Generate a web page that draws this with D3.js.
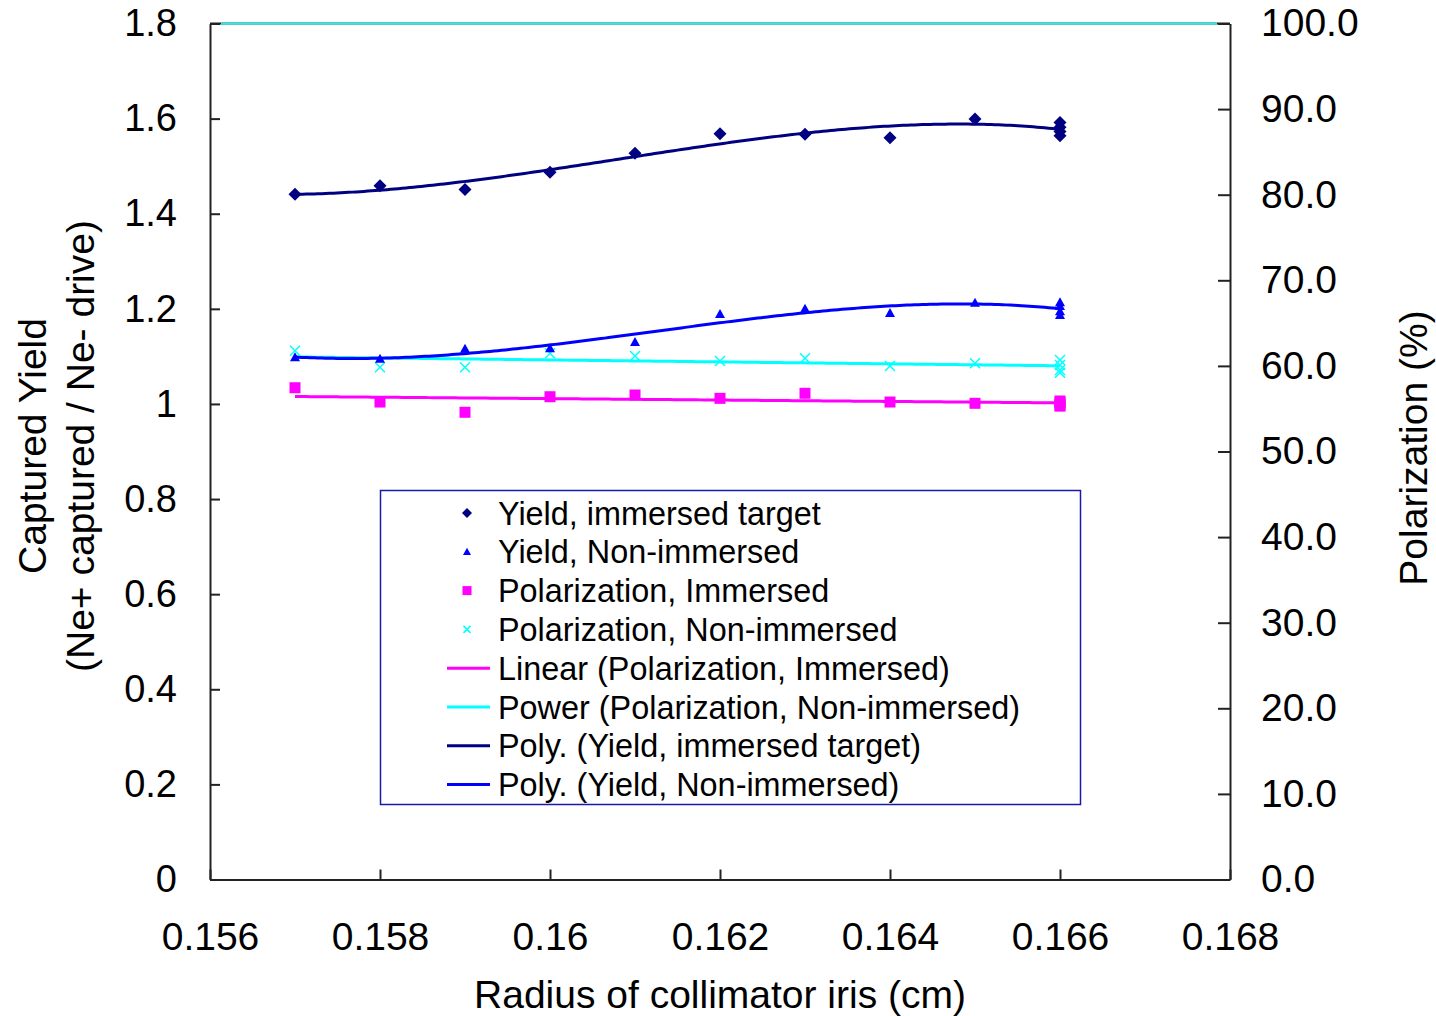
<!DOCTYPE html>
<html>
<head>
<meta charset="utf-8">
<script src="https://cdn.jsdelivr.net/npm/d3@7"></script>
<style>
  html, body { margin: 0; padding: 0; background: #fff; }
  svg { display: block; font-family: "Liberation Sans", Arial, sans-serif; }
</style>
</head>
<body>
<svg id="chart" width="1436" height="1016"></svg>
<script>
// Collimator iris radius (cm) for every run; 0.166 cm was run four times
const radius = [0.157, 0.158, 0.159, 0.160, 0.161, 0.162, 0.163, 0.164, 0.165, 0.166, 0.166, 0.166, 0.166];

// Captured yield (Ne+ captured / Ne- drive), left axis
const yieldImmersed    = [1.441, 1.459, 1.451, 1.487, 1.527, 1.568, 1.567, 1.560, 1.599, 1.592, 1.582, 1.573, 1.564];
const yieldNonImmersed = [1.098, 1.095, 1.116, 1.117, 1.130, 1.189, 1.200, 1.191, 1.213, 1.214, 1.206, 1.195, 1.187];

// Polarization (%), right axis
const polImmersed    = [57.45, 55.78, 54.58, 56.40, 56.60, 56.21, 56.80, 55.78, 55.63, 55.90, 55.70, 55.45, 55.30];
const polNonImmersed = [61.78, 59.84, 59.84, 61.47, 61.16, 60.57, 60.89, 59.99, 60.30, 60.69, 60.11, 59.52, 59.21];

// Axis ticks
const xTicks = [0.156, 0.158, 0.160, 0.162, 0.164, 0.166, 0.168];
const yLeftTicks = [0, 0.2, 0.4, 0.6, 0.8, 1.0, 1.2, 1.4, 1.6, 1.8];
const yRightTicks = [0, 10, 20, 30, 40, 50, 60, 70, 80, 90, 100];

// Legend entries
const legendItems = [
  { label: "Yield, immersed target", kind: "diamond", color: "#000080" },
  { label: "Yield, Non-immersed", kind: "triangle", color: "#0000FF" },
  { label: "Polarization, Immersed", kind: "square", color: "#FF00FF" },
  { label: "Polarization, Non-immersed", kind: "cross", color: "#00FFFF" },
  { label: "Linear (Polarization, Immersed)", kind: "line", color: "#FF00FF" },
  { label: "Power (Polarization, Non-immersed)", kind: "line", color: "#00FFFF" },
  { label: "Poly. (Yield, immersed target)", kind: "line", color: "#000080" },
  { label: "Poly. (Yield, Non-immersed)", kind: "line", color: "#0000FF" }
];

const svg = d3.select("#chart");
const plot = { left: 210, right: 1230, top: 23.5, bottom: 879.5 };

const x = d3.scaleLinear().domain([0.156, 0.168]).range([plot.left, plot.right]);
const yL = d3.scaleLinear().domain([0, 1.8]).range([plot.bottom, plot.top]);
const yR = d3.scaleLinear().domain([0, 100]).range([plot.bottom, plot.top]);

// ---- least-squares trendlines ----
function polyFit(xs, ys, order) {
  const x0 = 0.1615, s = 0.001, n = order + 1;
  const A = Array.from({ length: n }, () => new Array(n + 1).fill(0));
  xs.forEach((xv, i) => {
    const t = (xv - x0) / s;
    const p = d3.range(n).map(k => Math.pow(t, k));
    for (let r = 0; r < n; r++) {
      for (let c = 0; c < n; c++) A[r][c] += p[r] * p[c];
      A[r][n] += p[r] * ys[i];
    }
  });
  for (let i = 0; i < n; i++) {
    let piv = i;
    for (let r = i + 1; r < n; r++) if (Math.abs(A[r][i]) > Math.abs(A[piv][i])) piv = r;
    [A[i], A[piv]] = [A[piv], A[i]];
    for (let r = 0; r < n; r++) {
      if (r === i) continue;
      const f = A[r][i] / A[i][i];
      for (let c = i; c <= n; c++) A[r][c] -= f * A[i][c];
    }
  }
  const coef = d3.range(n).map(i => A[i][n] / A[i][i]);
  return xv => { const t = (xv - x0) / s; return coef.reduce((acc, c, k) => acc + c * Math.pow(t, k), 0); };
}
function powerFit(xs, ys) {
  const lx = xs.map(Math.log), ly = ys.map(Math.log);
  const mx = d3.mean(lx), my = d3.mean(ly);
  const b = d3.sum(lx.map((v, i) => (v - mx) * (ly[i] - my))) / d3.sum(lx.map(v => (v - mx) * (v - mx)));
  const a = Math.exp(my - b * mx);
  return xv => a * Math.pow(xv, b);
}

const xMin = d3.min(radius), xMax = d3.max(radius);
const sampleX = d3.range(0, 201).map(i => xMin + (xMax - xMin) * i / 200);

const trends = [
  { f: polyFit(radius, polImmersed, 1), y: yR, color: "#FF00FF" },
  { f: powerFit(radius, polNonImmersed), y: yR, color: "#00FFFF" },
  { f: polyFit(radius, yieldImmersed, 3), y: yL, color: "#000080" },
  { f: polyFit(radius, yieldNonImmersed, 3), y: yL, color: "#0000FF" }
];

// ---- frame ----
svg.append("line")
  .attr("x1", plot.left).attr("x2", plot.right)
  .attr("y1", plot.top).attr("y2", plot.top)
  .attr("stroke", "#222").attr("stroke-width", 2);
svg.append("line")
  .attr("x1", 221).attr("x2", 1217)
  .attr("y1", plot.top).attr("y2", plot.top)
  .attr("stroke", "#3fe0e0").attr("stroke-width", 2.5);

// ---- axes ----
function styleAxis(g, fontSize) {
  g.select(".domain").attr("stroke", "#222").attr("stroke-width", 2);
  g.selectAll(".tick line").attr("stroke", "#222").attr("stroke-width", 2);
  g.selectAll(".tick text").attr("fill", "#000").attr("font-size", fontSize)
    .attr("font-family", "'Liberation Sans', Arial, sans-serif");
}

const gx = svg.append("g").attr("transform", `translate(0,${plot.bottom})`)
  .call(d3.axisBottom(x).tickValues(xTicks).tickSize(-10).tickSizeOuter(0).tickPadding(43)
    .tickFormat(d => String(+d.toFixed(3))));
styleAxis(gx, 39);

const gl = svg.append("g").attr("transform", `translate(${plot.left},0)`)
  .call(d3.axisLeft(yL).tickValues(yLeftTicks).tickSize(-10).tickSizeOuter(0).tickPadding(33)
    .tickFormat(d => String(+d.toFixed(1))));
styleAxis(gl, 38);

const gr = svg.append("g").attr("transform", `translate(${plot.right},0)`)
  .call(d3.axisRight(yR).tickValues(yRightTicks).tickSize(-12).tickSizeOuter(0).tickPadding(31)
    .tickFormat(d3.format(".1f")));
styleAxis(gr, 39);

// ---- trendlines ----
trends.forEach(t => {
  svg.append("path")
    .datum(sampleX)
    .attr("fill", "none")
    .attr("stroke", t.color)
    .attr("stroke-width", 3)
    .attr("d", d3.line().x(d => x(d)).y(d => t.y(t.f(d))));
});

// ---- markers ----
const diamond = s => `M0,${-s}L${s},0L0,${s}L${-s},0Z`;
const triangle = s => `M0,${-s}L${s},${s * 0.8}L${-s},${s * 0.8}Z`;
const square = s => `M${-s},${-s}H${s}V${s}H${-s}Z`;
const cross = s => `M${-s},${-s}L${s},${s}M${-s},${s}L${s},${-s}`;

function drawMarker(g, kind, color, s) {
  if (kind === "diamond") g.append("path").attr("d", diamond(s)).attr("fill", color);
  else if (kind === "triangle") g.append("path").attr("d", triangle(s)).attr("fill", color);
  else if (kind === "square") g.append("path").attr("d", square(s)).attr("fill", color);
  else if (kind === "cross") g.append("path").attr("d", cross(s)).attr("stroke", color).attr("stroke-width", 1.5).attr("fill", "none");
}

const markerSeries = [
  { values: polImmersed, y: yR, kind: "square", color: "#FF00FF", size: 5.5 },
  { values: polNonImmersed, y: yR, kind: "cross", color: "#00FFFF", size: 5 },
  { values: yieldNonImmersed, y: yL, kind: "triangle", color: "#0000FF", size: 5 },
  { values: yieldImmersed, y: yL, kind: "diamond", color: "#000080", size: 6.5 }
];
markerSeries.forEach(ser => {
  ser.values.forEach((v, i) => {
    const g = svg.append("g").attr("transform", `translate(${x(radius[i])},${ser.y(v)})`);
    drawMarker(g, ser.kind, ser.color, ser.size);
  });
});

// ---- legend ----
const legend = svg.append("g");
legend.append("rect")
  .attr("x", 380.5).attr("y", 490.5).attr("width", 700).attr("height", 314)
  .attr("fill", "#fff").attr("stroke", "#1a1aa8").attr("stroke-width", 1.5);
legendItems.forEach((item, i) => {
  const cy = 513 + i * 38.8;
  if (item.kind === "line") {
    legend.append("line").attr("x1", 447).attr("x2", 490).attr("y1", cy).attr("y2", cy)
      .attr("stroke", item.color).attr("stroke-width", 3);
  } else {
    const g = legend.append("g").attr("transform", `translate(467,${cy})`);
    const s = { diamond: 5, triangle: 4, square: 4.5, cross: 3.5 }[item.kind];
    drawMarker(g, item.kind, item.color, s);
  }
  legend.append("text").attr("x", 498).attr("y", cy + 11.5)
    .attr("font-size", 32.4).attr("fill", "#000").text(item.label);
});

// ---- axis titles ----
svg.append("text").attr("x", 720).attr("y", 1008).attr("text-anchor", "middle")
  .attr("font-size", 39).attr("fill", "#000").text("Radius of collimator iris (cm)");

const leftTitle = svg.append("text").attr("transform", "rotate(-90)")
  .attr("text-anchor", "middle").attr("font-size", 39).attr("fill", "#000");
leftTitle.append("tspan").attr("x", -446).attr("y", 46).text("Captured Yield");
leftTitle.append("tspan").attr("x", -446).attr("y", 94).text("(Ne+ captured / Ne- drive)");

svg.append("text").attr("transform", "rotate(-90)")
  .attr("x", -448).attr("y", 1427).attr("text-anchor", "middle")
  .attr("font-size", 39).attr("fill", "#000").text("Polarization (%)");
</script>
</body>
</html>
